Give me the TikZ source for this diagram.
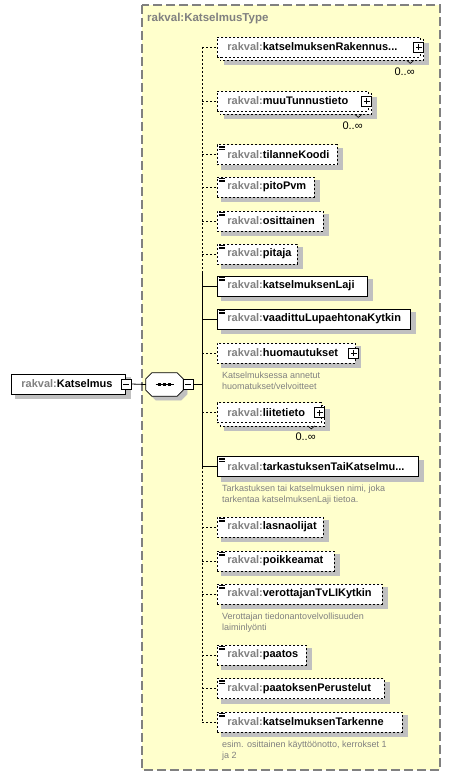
\documentclass[tikz,border=0pt]{standalone}
\usepackage{fontspec}
\setmainfont{Liberation Sans}
\usetikzlibrary{positioning, backgrounds}

\definecolor{typefill}{RGB}{255,255,204}
\definecolor{typeline}{RGB}{128,128,128}
\definecolor{prefixgray}{RGB}{128,128,128}
\definecolor{notegray}{RGB}{128,128,128}
\definecolor{shadowgray}{RGB}{192,192,192}

% element label: fixed box width, gray prefix
\newcommand{\elname}[2]{\makebox[#1pt][l]{\hspace{10pt}\textcolor{prefixgray}{rakval:}#2}}

\begin{document}
\begin{tikzpicture}[
    x=1pt, y=-1pt,
    elem base/.style={draw, line width=0.8pt, fill=white, anchor=west, minimum height=20pt, inner xsep=0pt, inner ysep=0pt, font=\fontsize{11}{13}\selectfont\bfseries},
    req elem/.style={elem base},
    opt elem/.style={elem base, dash pattern=on 2pt off 2pt},
    multi elem/.style={elem base, dash pattern=on 2pt off 2pt},
    copy box/.style={draw, line width=0.8pt, fill=white, dash pattern=on 2pt off 2pt},
    shadow box/.style={draw=shadowgray, fill=shadowgray},
    simple type/.style={path picture={
        \foreach \k in {1.5,3,4.5}
            \draw[solid, line width=0.6pt] ([shift={(2pt,-\k pt)}]path picture bounding box.north west) -- ++(6pt,0pt);}},
    plus box/.style={draw, solid, line width=0.7pt, fill=white, minimum size=10pt, inner sep=0pt,
        path picture={\draw[line width=0.7pt] ([xshift=-3pt]path picture bounding box.center) -- ([xshift=3pt]path picture bounding box.center)
            ([yshift=-3pt]path picture bounding box.center) -- ([yshift=3pt]path picture bounding box.center);}},
    minus box/.style={draw, solid, line width=0.7pt, fill=white, minimum size=10pt, inner sep=0pt,
        path picture={\draw[line width=0.7pt] ([xshift=-3pt]path picture bounding box.center) -- ([xshift=3pt]path picture bounding box.center);}},
    seq style/.style={minimum width=37pt, minimum height=23pt, inner sep=0pt},
    seq octagon/.style={draw, line width=0.8pt, fill=white},
    type box/.style={fill=typefill, draw=typeline, line width=1.2pt, dash pattern=on 9pt off 4pt},
    type label/.style={font=\fontsize{11.5}{13}\selectfont\bfseries, text=prefixgray, inner sep=0pt, anchor=west},
    mult/.style={font=\fontsize{11}{13}\selectfont, inner sep=0pt},
    note/.style={font=\fontsize{9}{11}\selectfont, text=notegray, align=left, inner sep=0pt},
    opt line/.style={line width=0.8pt, dash pattern=on 2pt off 2pt},
    req line/.style={line width=0.8pt}
]
\useasboundingbox (0,0) rectangle (450,776);

\node[type label] (typename) at (147,19) {rakval:KatselmusType};

% root element and sequence
\node[req elem] (root) at (11,384) {\elname{114}{Katselmus}};
\node[minus box] (rootminus) at (126,384) {};
\node[seq style] (seq) at (164.5,384.5) {};
\filldraw[seq octagon] ([xshift=6pt]seq.north west) -- ([xshift=-6pt]seq.north east) -- ([yshift=-6pt]seq.north east)
    -- ([yshift=6pt]seq.south east) -- ([xshift=-6pt]seq.south east) -- ([xshift=6pt]seq.south west)
    -- ([yshift=6pt]seq.south west) -- ([yshift=-6pt]seq.north west) -- cycle;
\node[minus box] (seqminus) at (188,384) {};
\draw[line width=0.7pt] ([xshift=-9pt]seq.center) -- ([xshift=9pt]seq.center);
\foreach \x in {-5,0,5}
    \fill ([xshift=\x pt]seq.center) +(-1.6,-1.6) rectangle +(1.6,1.6);
\coordinate (spine) at (202,0);
\draw[req line] (rootminus.east) -- (seq.west);
\draw[req line] (seqminus.east) -- (seqminus.east -| spine);

% child elements
\node[multi elem] (rakennus) at (217,47) {\elname{203}{katselmuksenRakennus...}};
\node[multi elem] (tunnus) at (217,101) {\elname{151}{muuTunnustieto}};
\node[opt elem, simple type] (tilanne) at (217,154.5) {\elname{120}{tilanneKoodi}};
\node[opt elem, simple type] (pito) at (217,187) {\elname{97}{pitoPvm}};
\node[opt elem, simple type] (osittainen) at (217,221) {\elname{106}{osittainen}};
\node[opt elem, simple type] (pitaja) at (217,254) {\elname{80}{pitaja}};
\node[req elem, simple type] (laji) at (217,286) {\elname{150}{katselmuksenLaji}};
\node[req elem, simple type] (lupaehto) at (217,319) {\elname{193}{vaadittuLupaehtonaKytkin}};
\node[opt elem] (huom) at (217,353) {\elname{138}{huomautukset}};
\node[multi elem] (liite) at (217,412.5) {\elname{104}{liitetieto}};
\node[req elem, simple type] (tarkastus) at (217,466.5) {\elname{201}{tarkastuksenTaiKatselmu...}};
\node[opt elem, simple type] (lasna) at (217,527) {\elname{106}{lasnaolijat}};
\node[opt elem, simple type] (poikkeamat) at (217,561) {\elname{117}{poikkeamat}};
\node[opt elem, simple type] (verottaja) at (217,594) {\elname{165}{verottajanTvLIKytkin}};
\node[opt elem, simple type] (paatos) at (217,655) {\elname{89}{paatos}};
\node[opt elem, simple type] (perustelut) at (217,688.5) {\elname{167}{paatoksenPerustelut}};
\node[opt elem, simple type] (tarkenne) at (217,722) {\elname{185}{katselmuksenTarkenne}};

% expand icons
\foreach \e in {rakennus, tunnus, huom, liite}
    \node[plus box] (\e plus) at ([xshift=-2pt]\e.east) {};

% occurrences
\foreach \e in {rakennus, tunnus, liite} {
    \node[mult, below left=10pt and 6pt of \e.south east] (\e mult) {0..∞};
    \draw[line width=0.6pt] ([shift={(-14pt,-3pt)}]\e.south east) -- ++(3.5pt,-3pt) -- ++(3.5pt,3pt);
}

% annotations
\node[note, below right=8pt and 5pt of huom.south west] (huomnote) {Katselmuksessa annetut\\huomatukset/velvoitteet};
\node[note, below right=8pt and 5pt of tarkastus.south west] (tarkastusnote) {Tarkastuksen tai katselmuksen nimi, joka\\tarkentaa katselmuksenLaji tietoa.};
\node[note, below right=8pt and 5pt of verottaja.south west] (verottajanote) {Verottajan tiedonantovelvollisuuden\\laiminlyönti};
\node[note, below right=8pt and 5pt of tarkenne.south west] (tarkennenote) {esim. osittainen käyttöönotto, kerrokset 1\\ja 2};

% spine and branches
\coordinate (solidtop) at (202,273);
\draw[opt line] (rakennus.west -| spine) -- (solidtop);
\draw[req line] (solidtop) -- (tarkastus.west -| spine);
\draw[opt line] (tarkastus.west -| spine) -- (tarkenne.west -| spine);
\foreach \e in {rakennus, tunnus, tilanne, pito, osittainen, pitaja, huom, liite, lasna, poikkeamat, verottaja, paatos, perustelut, tarkenne}
    \draw[opt line] (\e.west -| spine) -- (\e.west);
\foreach \e in {laji, lupaehto, tarkastus}
    \draw[req line] (\e.west -| spine) -- (\e.west);

% frame, shadows and stacked copies behind everything
\begin{scope}[on background layer]
    \filldraw[type box] (142,5) rectangle (440,770);
    \foreach \e in {root, tilanne, pito, osittainen, pitaja, laji, lupaehto, huom, tarkastus, lasna, poikkeamat, verottaja, paatos, perustelut, tarkenne}
        \filldraw[shadow box] ([shift={(4pt,-4pt)}]\e.north west) rectangle ([shift={(4pt,-4pt)}]\e.south east);
    \filldraw[shadow box] ([shift={(10pt,-4pt)}]seq.north west) -- ([shift={(-2pt,-4pt)}]seq.north east) -- ([shift={(4pt,-10pt)}]seq.north east)
        -- ([shift={(4pt,2pt)}]seq.south east) -- ([shift={(-2pt,-4pt)}]seq.south east) -- ([shift={(10pt,-4pt)}]seq.south west)
        -- ([shift={(4pt,2pt)}]seq.south west) -- ([shift={(4pt,-10pt)}]seq.north west) -- cycle;
    \foreach \e in {rakennus, tunnus, liite} {
        \filldraw[shadow box] ([shift={(7pt,-7pt)}]\e.north west) rectangle ([shift={(7pt,-7pt)}]\e.south east);
        \filldraw[copy box] ([shift={(3pt,-3pt)}]\e.north west) rectangle ([shift={(3pt,-3pt)}]\e.south east);
    }
\end{scope}
\end{tikzpicture}
\end{document}
